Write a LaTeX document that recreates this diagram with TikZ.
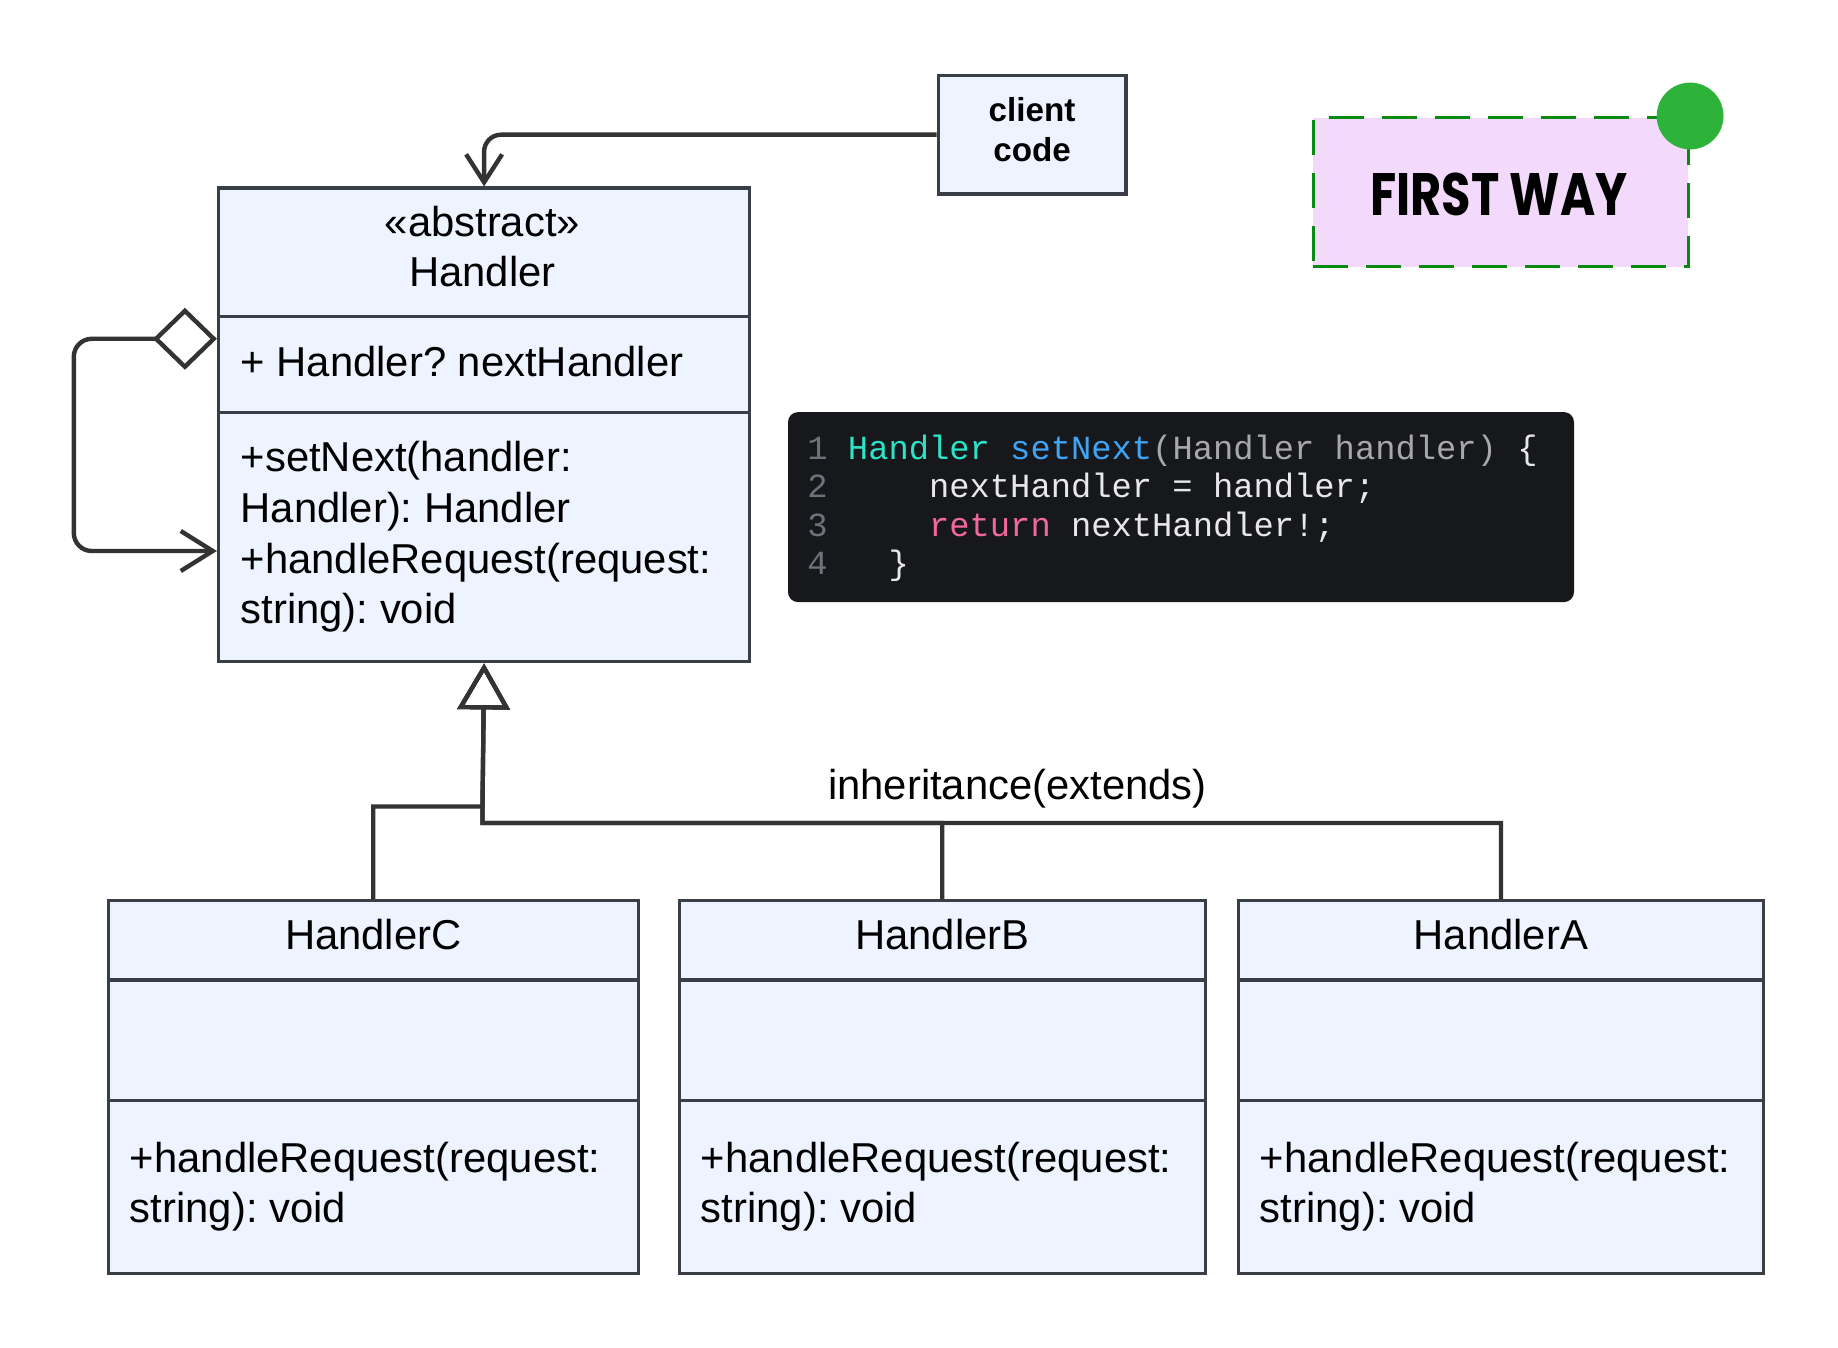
\documentclass[tikz,border=0pt]{standalone}
\usepackage{fontspec}
\setmainfont{Liberation Sans}
\newfontfamily\codefont{Liberation Mono}
\newfontfamily\wayfont{Poppins}
\usetikzlibrary{arrows.meta,calc}
\frenchspacing
\definecolor{boxfill}{HTML}{EDF4FF}
\definecolor{boxline}{HTML}{3A3F47}
\definecolor{connc}{HTML}{333333}
\definecolor{codebg}{HTML}{16181B}
\definecolor{codeteal}{HTML}{2BE3C6}
\definecolor{codeblue}{HTML}{3FA4F4}
\definecolor{codegray}{HTML}{A8A8A8}
\definecolor{codewhite}{HTML}{E8E8E8}
\definecolor{codenum}{HTML}{6E737B}
\definecolor{codepink}{HTML}{F2679F}
\definecolor{wayfill}{HTML}{F3DAFC}
\definecolor{waydash}{HTML}{0A8A12}
\definecolor{waydot}{HTML}{2DB33A}
\tikzset{
  umlbox/.style={draw=boxline, fill=boxfill, line width=1.7pt, rectangle, inner sep=0pt, anchor=north west},
  divider/.style={draw=boxline, line width=1.7pt},
  umltext/.style={font=\frenchspacing\fontsize{20.9}{25.2}\selectfont, inner sep=0pt, text=black},
  codetext/.style={font=\codefont\fontsize{16.9}{19.25}\selectfont, inner sep=0pt, text=codewhite, anchor=base west},
  inh/.style={draw=connc, line width=2.1pt, -{Triangle[open, length=23pt, width=26pt]}},
  assoc/.style={draw=connc, line width=2.2pt, rounded corners=8.5pt, -{Straight Barb[length=14pt, width=18pt]}},
  selfloop/.style={draw=connc, line width=2.2pt, rounded corners=9pt, {Diamond[open, length=32pt, width=31pt]}-{Straight Barb[length=16pt, width=20pt]}},
}
\begin{document}
\begin{tikzpicture}[x=0.5pt, y=-0.5pt]
\useasboundingbox (0,0) rectangle (1838,1348);
\fill[white] (0,0) rectangle (1838,1348);

% Handler
\node[umlbox, minimum width=265.5pt, minimum height=236.8pt] (handler) at (216.9,186.4) {};
\draw[divider] (216.9,316.5) -- (747.9,316.5);
\draw[divider] (216.9,412.6) -- (747.9,412.6);
\node[umltext, anchor=base] (hst) at (482.4,236.5) {«abstract»};
\node[umltext, anchor=base] (hname) at (482.4,287) {Handler};
\node[umltext, anchor=base west] (hattr) at (240.3,377) {+ Handler? nextHandler};
\node[umltext, anchor=base west] (hm1) at (240.3,472) {+setNext(handler:};
\node[umltext, anchor=base west] (hm2) at (240.3,522.5) {Handler): Handler};
\node[umltext, anchor=base west] (hm3) at (240.3,573) {+handleRequest(request:};
\node[umltext, anchor=base west] (hm4) at (240.3,623.5) {string): void};

% client code
\node[umlbox, minimum width=93.75pt, minimum height=59.2pt] (client) at (936.6,73.8) {};
\node[inner sep=0pt, align=center, font=\bfseries\fontsize{16.6}{20}\selectfont] (clienttxt) at ($(client.center)+(0,-5)$) {client\\code};

% code block
\node[draw=none, fill=codebg, rounded corners=5pt, minimum width=393pt, minimum height=95pt, anchor=north west, inner sep=0pt] (code) at (787.6,411.7) {};
\node[codetext] (c1) at (807,459.5) {\textcolor{codenum}{1} \textcolor{codeteal}{Handler} \textcolor{codeblue}{setNext}\textcolor{codegray}{(Handler handler)} \{};
\node[codetext] (c2) at (807,497.5) {\textcolor{codenum}{2}\phantom{00000}nextHandler = handler;};
\node[codetext] (c3) at (807,536) {\textcolor{codenum}{3}\phantom{00000}\textcolor{codepink}{return} nextHandler!;};
\node[codetext] (c4) at (807,574.5) {\textcolor{codenum}{4}\phantom{000}\}};

% FIRST WAY
\node[draw=waydash, fill=wayfill, line width=1.7pt, dash pattern=on 17.5pt off 9pt, minimum width=187.5pt, minimum height=74.5pt, anchor=north west, inner sep=0pt] (way) at (1311.7,116) {};
\node[inner sep=0pt, font=\wayfont\bfseries\fontsize{26}{30}\selectfont] (waytxt) at (1499,194) {\scalebox{0.92}[1.15]{FIRST WAY}};
\fill[waydot] (way.north east) circle (16.7pt);

% children
\node[umlbox, minimum width=264.9pt, minimum height=186.4pt] (hc) at (106.7,899) {};
\draw[divider] (106.7,980) -- (636.5,980);
\draw[divider] (106.7,1100.7) -- (636.5,1100.7);
\node[umltext, anchor=base] (hcname) at (hc.north |- 0,949) {HandlerC};
\node[umltext, anchor=base west] (hcm1) at (129.5,1172) {+handleRequest(request:};
\node[umltext, anchor=base west] (hcm2) at (129.5,1222) {string): void};

\node[umlbox, minimum width=263.1pt, minimum height=186.4pt] (hb) at (677.5,899) {};
\draw[divider] (677.5,980) -- (1203.8,980);
\draw[divider] (677.5,1100.7) -- (1203.8,1100.7);
\node[umltext, anchor=base] (hbname) at (hb.north |- 0,949) {HandlerB};
\node[umltext, anchor=base west] (hbm1) at (700.5,1172) {+handleRequest(request:};
\node[umltext, anchor=base west] (hbm2) at (700.5,1222) {string): void};

\node[umlbox, minimum width=262.5pt, minimum height=186.4pt] (ha) at (1236.7,899) {};
\draw[divider] (1236.7,980) -- (1761.8,980);
\draw[divider] (1236.7,1100.7) -- (1761.8,1100.7);
\node[umltext, anchor=base] (haname) at (ha.north |- 0,949) {HandlerA};
\node[umltext, anchor=base west] (ham1) at (1259.5,1172) {+handleRequest(request:};
\node[umltext, anchor=base west] (ham2) at (1259.5,1222) {string): void};

% inheritance
\coordinate (jc) at (482.4,806.5);
\coordinate (jab) at (482.4,822.9);
\draw[inh] (hc.north) |- (jc) -- (handler.south);
\draw[inh] (hb.north) |- (jab) -- (handler.south);
\draw[inh] (ha.north) |- (jab) -- (handler.south);
\node[umltext] (inhlbl) at (1017.5,789) {inheritance(extends)};

% client association
\draw[assoc] (client.west) -| (handler.north);

% self aggregation
\coordinate (hagg) at (216.9,338.8);
\coordinate (hin) at (216.9,551);
\coordinate (loopx) at (73.8,0);
\draw[selfloop] (hagg) -- (hagg -| loopx) -- (hin -| loopx) -- (hin);
\end{tikzpicture}
\end{document}
